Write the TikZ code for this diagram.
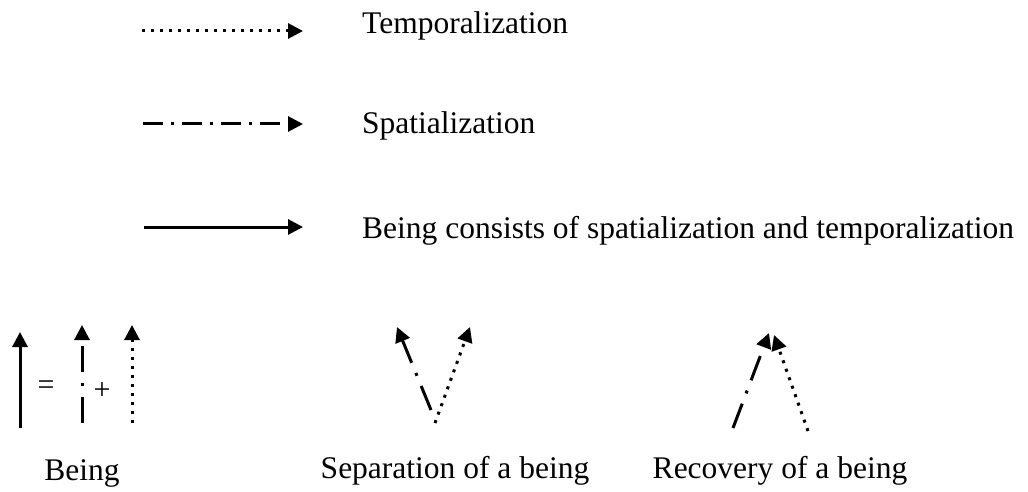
\documentclass[tikz,border=0pt]{standalone}
\usepackage{fontspec}
\setmainfont{Liberation Serif}
\usetikzlibrary{arrows.meta}

\tikzset{
  tip/.style={-{Triangle[length=15pt,width=15pt]}},
  temporal/.style={tip, line width=3pt, dash pattern=on 3pt off 6pt},
  spatial/.style={tip, line width=3pt, dash pattern=on 20pt off 8pt on 3pt off 8pt},
  spatiallong/.style={tip, line width=3pt, dash pattern=on 26pt off 11pt on 3pt off 11pt},
  being/.style={tip, line width=3pt},
  lbl/.style={anchor=base west, inner sep=0pt, font=\fontsize{31.5}{36}\selectfont},
  caption/.style={anchor=base, inner sep=0pt, font=\fontsize{31.5}{36}\selectfont},
  sign/.style={inner sep=0pt, font=\fontsize{30}{34}\selectfont}
}

\begin{document}
\begin{tikzpicture}[x=1pt, y=-1pt]
\useasboundingbox (0,0) rectangle (1028,492);

% legend
\coordinate (t1) at (142,31);  \coordinate (t2) at (303,31);
\coordinate (s1) at (143,124); \coordinate (s2) at (303,124);
\coordinate (b1) at (144,227); \coordinate (b2) at (303,227);
\draw[temporal] (t1) -- (t2);
\draw[spatial]  (s1) -- (s2);
\draw[being]    (b1) -- (b2);
\node[lbl] (ltemp)  at (362,34)  {Temporalization};
\node[lbl] (lspat)  at (362,134) {Spatialization};
\node[lbl] (lbeing) at (362,238) {Being consists of spatialization and temporalization};

% being = spatialization + temporalization
\coordinate (w1) at (20,428);  \coordinate (w2) at (20,332);
\coordinate (x1) at (82,423);  \coordinate (x2) at (82,325);
\coordinate (y1) at (132,423); \coordinate (y2) at (132,325);
\draw[being]       (w1) -- (w2);
\draw[spatiallong] (x1) -- (x2);
\draw[temporal]    (y1) -- (y2);
\node[sign] (eq)   at (46,388)  {=};
\node[sign] (plus) at (102,391) {+};
\node[caption] (cbeing) at (82,480) {Being};

% separation
\coordinate (sp1) at (431,410); \coordinate (sp2) at (397,327);
\coordinate (st1) at (435,423); \coordinate (st2) at (470,327);
\draw[spatiallong] (sp1) -- (sp2);
\draw[temporal]    (st1) -- (st2);
\node[caption] (csep) at (455,478) {Separation of a being};

% recovery
\coordinate (rp1) at (733,428); \coordinate (rp2) at (769,333);
\coordinate (rt1) at (808,431); \coordinate (rt2) at (774,335);
\draw[spatiallong] (rp1) -- (rp2);
\draw[temporal]    (rt1) -- (rt2);
\node[caption] (crec) at (780,478) {Recovery of a being};
\end{tikzpicture}
\end{document}
